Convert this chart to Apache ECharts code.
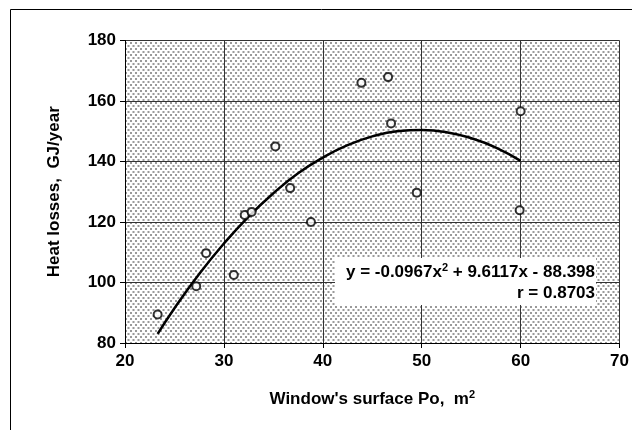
<!DOCTYPE html>
<html>
<head>
<meta charset="utf-8">
<script src="https://cdn.jsdelivr.net/npm/echarts@6/dist/echarts.min.js"></script>
<style>
  html, body { margin: 0; padding: 0; background: #fff; }
  #main { width: 632px; height: 430px; }
</style>
</head>
<body>
<div id="main"></div>
<script>
// measured points (window surface, heat losses)
var surfaceX = [23.3, 27.2, 28.2, 31.0, 32.1, 32.8, 35.2, 36.7, 38.8, 43.9, 46.6, 46.9, 49.5, 59.9, 60.0];
var heatY = [89.4, 98.8, 109.7, 102.5, 122.3, 123.3, 145.0, 131.2, 120.0, 166.0, 167.9, 152.6, 129.7, 123.9, 156.6];

// trend curve
var trendX = [23.3, 25, 27.5, 30, 32.5, 35, 37.5, 40, 42.5, 45, 47.5, 50, 52.5, 55, 57.5, 60];
var trendY = [83.0, 91.5, 102.8, 112.9, 121.8, 129.5, 136.1, 141.3, 145.4, 148.3, 150.0, 150.4, 149.7, 147.7, 144.6, 140.2];

var equation = 'y = -0.0967x{sup|2} + 9.6117x - 88.398';
var corr = 'r = 0.8703';

var font = 'Liberation Sans, Arial, sans-serif';
var fs = 17;

// dotted fill for plot area
var tile = document.createElement('canvas');
tile.width = 5;
tile.height = 6;
var ctx = tile.getContext('2d');
ctx.fillStyle = '#ffffff';
ctx.fillRect(0, 0, 5, 6);
ctx.fillStyle = '#9a9a9a';
ctx.fillRect(0, 0, 2, 2);
ctx.fillRect(2.5, 3, 2, 2);

var chart = echarts.init(document.getElementById('main'), null, { renderer: 'canvas' });

var pts = surfaceX.map(function (x, i) { return [x, heatY[i]]; });
var trend = trendX.map(function (x, i) { return [x, trendY[i]]; });

var supStyle = { fontSize: 11, fontWeight: 'bold', fontFamily: font, color: '#000', verticalAlign: 'bottom', padding: [0, 0, 9, 0] };

var option = {
  backgroundColor: '#ffffff',
  animation: false,
  grid: {
    left: 125,
    top: 40.5,
    right: 11,
    bottom: 87,
    show: true,
    borderWidth: 0,
    backgroundColor: { image: tile, repeat: 'repeat' }
  },
  xAxis: {
    type: 'value',
    min: 20,
    max: 70,
    interval: 10,
    name: "Window's surface Po,  m{sup|2}",
    nameLocation: 'middle',
    nameGap: 46,
    nameTextStyle: {
      color: '#000', fontFamily: font, fontWeight: 'bold', fontSize: fs,
      rich: { sup: supStyle }
    },
    axisLine: { show: true, lineStyle: { color: '#000', width: 1 } },
    axisTick: { show: true, length: 5, lineStyle: { color: '#000' } },
    axisLabel: { color: '#000', fontFamily: font, fontWeight: 'bold', fontSize: fs, margin: 10 },
    splitLine: { show: true, lineStyle: { color: '#333', width: 1 } }
  },
  yAxis: {
    type: 'value',
    min: 80,
    max: 180,
    interval: 20,
    name: 'Heat losses,  GJ/year',
    nameLocation: 'middle',
    nameGap: 62,
    nameTextStyle: { color: '#000', fontFamily: font, fontWeight: 'bold', fontSize: fs },
    axisLine: { show: true, lineStyle: { color: '#000', width: 1 } },
    axisTick: { show: true, length: 5, lineStyle: { color: '#000' } },
    axisLabel: { color: '#000', fontFamily: font, fontWeight: 'bold', fontSize: fs, margin: 9 },
    splitLine: { show: true, lineStyle: { color: '#333', width: 1 } }
  },
  graphic: [
    {
      type: 'rect',
      left: 8, top: 7,
      shape: { width: 622, height: 440 },
      style: { fill: 'none', stroke: '#000', lineWidth: 1 },
      z: 0
    },
    {
      type: 'rect',
      left: 335, top: 258,
      shape: { width: 261, height: 47 },
      style: { fill: '#fff' },
      z: 10
    },
    {
      type: 'text',
      right: 632 - 595, top: 262,
      style: {
        text: equation,
        fill: '#000',
        font: 'bold ' + fs + 'px ' + font,
        align: 'right',
        rich: { sup: supStyle }
      },
      z: 11
    },
    {
      type: 'text',
      right: 632 - 595, top: 285,
      style: { text: corr, fill: '#000', font: 'bold ' + fs + 'px ' + font, align: 'right' },
      z: 11
    }
  ],
  series: [
    {
      type: 'line',
      data: trend,
      smooth: true,
      showSymbol: false,
      lineStyle: { color: '#000', width: 2.5 },
      z: 3
    },
    {
      type: 'scatter',
      data: pts,
      symbol: 'emptyCircle',
      symbolSize: 8,
      itemStyle: { color: '#000', borderWidth: 1.2 },
      z: 4
    }
  ]
};

chart.setOption(option);
</script>
</body>
</html>
